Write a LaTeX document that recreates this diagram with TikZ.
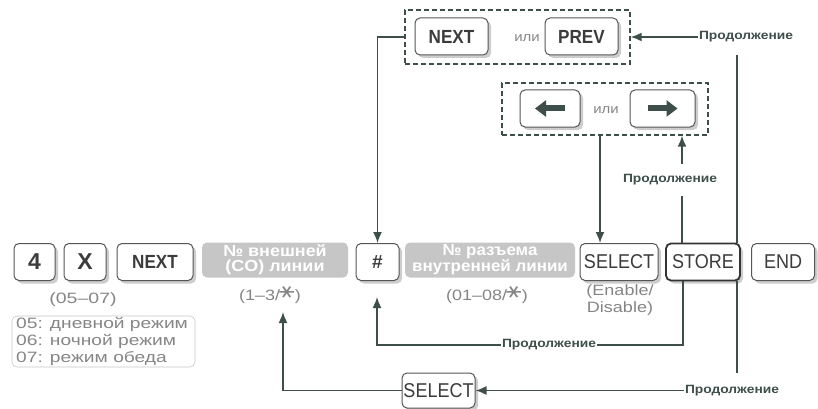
\documentclass[tikz,border=0pt]{standalone}
\usepackage{fontspec}
\usepackage{graphicx}
\setmainfont{Liberation Sans}
\newfontfamily\symfont{DejaVu Sans}
\usetikzlibrary{shadows,arrows.meta}
\definecolor{linecol}{HTML}{3E4E4B}
\definecolor{keyborder}{HTML}{555555}
\definecolor{keytext}{HTML}{3C3C3C}
\definecolor{boxgray}{HTML}{C6C6C6}
\definecolor{labgray}{HTML}{858585}
\definecolor{shadowgray}{HTML}{CDCDCD}
\newcommand{\hx}[2]{\scalebox{#1}[1]{#2}}
\newcommand{\fs}[2]{\fontsize{#1}{#2}\selectfont}
\newcommand{\starsym}{\raisebox{0.25ex}{\rotatebox[origin=c]{90}{\scalebox{1.3}{\symfont ∗}}}}
\tikzset{
  key/.style={draw=keyborder, line width=1pt, rounded corners=5pt, fill=white,
    minimum height=37pt, inner sep=0pt, text=keytext, font=\fs{20}{20},
    drop shadow={shadow xshift=3pt, shadow yshift=-3pt, fill=shadowgray, opacity=1}},
  storekey/.style={draw=black!80, line width=1.8pt},
  boldkey/.style={font=\bfseries\fs{19}{19}},
  graybox/.style={fill=boxgray, rounded corners=5pt, minimum height=35pt, inner sep=0pt,
    text=white, font=\bfseries\fs{16}{15}, align=center},
  dashbox/.style={draw=linecol, line width=1.4pt, dash pattern=on 5pt off 3pt, inner sep=0pt},
  conn/.style={draw=linecol, line width=1.6pt},
  arrowed/.style={-{Latex[length=11pt,width=9pt]}},
  blockarr/.style={draw=linecol, line width=6pt, -{Triangle[length=11pt,width=16pt]}},
  lab/.style={text=labgray, font=\fs{15}{17}, inner sep=1pt},
  ili/.style={text=labgray, font=\fs{13}{13}, inner sep=1pt},
  cont/.style={text=linecol, font=\bfseries\fs{12}{12}, inner sep=1pt},
  listframe/.style={draw=black!22, line width=0.6pt, rounded corners=5pt, inner sep=0pt}
}
\begin{document}
\begin{tikzpicture}[x=1pt,y=-1pt]
\useasboundingbox (0,0) rectangle (818,409);

% main row
\node[key, minimum width=41pt, font=\bfseries\fs{23}{23}] (k4) at (34.5,262) {4};
\node[key, minimum width=42pt, font=\bfseries\fs{23}{23}] (kx) at (85,262) {X};
\node[key, boldkey, minimum width=76pt] (knext) at (155,262) {\hx{0.9}{NEXT}};
\node[graybox, minimum width=146pt] (g1) at (275,260) {\hx{1.12}{№ внешней}\\\hx{1.12}{(CO) линии}};
\node[key, minimum width=43pt, font=\bfseries\fs{19}{19}] (khash) at (377.5,262) {\#};
\node[graybox, minimum width=170pt] (g2) at (490,260) {\hx{1.06}{№ разъема}\\\hx{1.06}{внутренней линии}};
\node[key, minimum width=78pt] (ksel) at (619,262) {\hx{0.9}{SELECT}};
\node[key, storekey, minimum width=74pt] (kstore) at (703,262) {\hx{0.9}{STORE}};
\node[key, minimum width=63pt] (kend) at (783,262) {\hx{0.9}{END}};

% labels under the main row
\node[lab] (l0507) at (83,300) {\hx{1.3}{(05–07)}};
\node[listframe, minimum width=183pt, minimum height=51pt] (lframe) at (103.5,341.5) {};
\node[lab, anchor=west, align=left] (list) at (15,341) {\hx{1.28}{05: дневной режим}\\\hx{1.28}{06: ночной режим}\\\hx{1.28}{07: режим обеда}};
\node[lab] (l13) at (270,294) {\hx{1.2}{(1–3/\starsym)}};
\node[lab] (l0108) at (487,294) {\hx{1.2}{(01–08/\starsym)}};
\node[lab, align=center] (lena) at (620,300) {\hx{1.2}{(Enable/}\\\hx{1.2}{Disable)}};

% top dashed groups
\node[dashbox, minimum width=225pt, minimum height=54pt] (b1) at (517.5,37) {};
\node[key, boldkey, minimum width=73pt] (knext2) at (451.5,36.5) {\hx{0.9}{NEXT}};
\node[key, boldkey, minimum width=73pt] (kprev) at (581.5,36.5) {\hx{0.9}{PREV}};
\node[ili] (ili1) at (527,38) {\hx{1.15}{или}};

\node[dashbox, minimum width=206pt, minimum height=52pt] (b2) at (605,109) {};
\node[key, minimum width=60pt] (kleft) at (550,108.5) {};
\node[key, minimum width=65pt] (kright) at (662.5,108.5) {};
\node[ili] (ili2) at (606,110) {\hx{1.15}{или}};
\draw[blockarr] ([xshift=15pt]kleft.center) -- ([xshift=-15pt]kleft.center);
\draw[blockarr] ([xshift=-15pt]kright.center) -- ([xshift=15pt]kright.center);

% bottom select
\node[key, minimum width=73pt, minimum height=35pt] (ksel2) at (438.5,390.5) {\hx{0.9}{SELECT}};

% continuation labels
\node[cont] (p1) at (746,37) {\hx{1.15}{Продолжение}};
\node[cont] (p2) at (670,180) {\hx{1.15}{Продолжение}};
\node[cont] (p3) at (549,345) {\hx{1.15}{Продолжение}};
\node[cont] (p4) at (732,390.5) {\hx{1.15}{Продолжение}};

% junction coordinates
\coordinate (c1) at (737,55);
\coordinate (c2) at (737,373);
\coordinate (c3) at (683,345);
\coordinate (c4) at (377,297);
\coordinate (c5) at (283,312);
\coordinate (c6) at (682,164);
\coordinate (c7) at (682,196);
\coordinate (c8) at (600,135);

% connectors
\draw[conn, arrowed] (b1.west) -| (khash.north);
\draw[conn, arrowed] (p1.west) -- (p1.west -| b1.east);
\draw[conn] (c1) -- (c1 |- kstore.north);
\draw[conn] (c1 |- kstore.south) -- (c2);
\draw[conn, arrowed] (p4.west) -- (p4.west -| ksel2.east);
\draw[conn, arrowed] (ksel2.west) -| (c5);
\draw[conn] (c3 |- kstore.south) -- (c3) -- (p3.east);
\draw[conn, arrowed] (p3.west) -| (c4);
\draw[conn, arrowed] (c6) -- (c6 |- b2.south);
\draw[conn] (c7) -- (c7 |- kstore.north);
\draw[conn, arrowed] (c8 |- b2.south) -- (c8 |- ksel.north);
\end{tikzpicture}
\end{document}
